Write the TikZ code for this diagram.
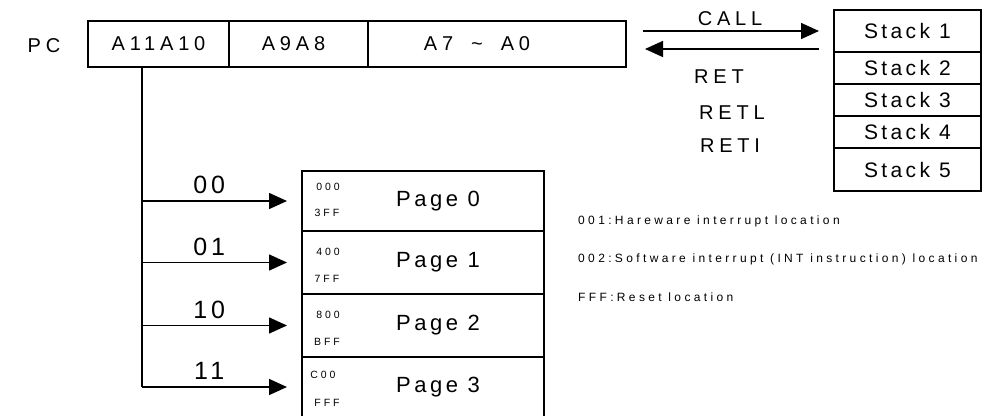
\documentclass[tikz,border=0pt]{standalone}
\usepackage{fontspec}
\setmainfont{Liberation Sans}
\newfontfamily\narrowspaced[LetterSpace=16]{Liberation Sans}
\newfontfamily\midspaced[LetterSpace=24]{Liberation Sans}
\newfontfamily\widespaced[LetterSpace=28]{Liberation Sans}
\usetikzlibrary{arrows.meta,positioning}

\tikzset{
  cell/.style={draw, line width=1.5pt, minimum height=46pt, inner sep=0pt, outer sep=0pt,
    font=\midspaced\fontsize{20}{22}\selectfont},
  stackcell/.style={draw, line width=1.5pt, minimum width=147pt, inner sep=0pt, outer sep=0pt,
    font=\narrowspaced\fontsize{21}{22}\selectfont},
  pagecell/.style={draw, line width=1.5pt, minimum width=242pt, inner sep=0pt, outer sep=0pt,
    font=\narrowspaced\fontsize{22}{24}\selectfont},
  addr/.style={font=\widespaced\fontsize{10.5}{12}\selectfont, inner sep=0pt},
  note/.style={font=\widespaced\fontsize{12}{14}\selectfont, inner sep=0pt, anchor=west},
  op/.style={font=\midspaced\fontsize{20}{22}\selectfont},
  sel/.style={font=\narrowspaced\fontsize{25}{28}\selectfont, pos=0.42, above=3pt},
  wire/.style={line width=1.5pt},
  flow/.style={line width=1.5pt, ->},
}

\begin{document}
\begin{tikzpicture}[x=1pt, y=-1pt, >={Triangle[length=18pt,width=16pt]}]
  \useasboundingbox (0,0) rectangle (985,415);
  \clip (0,0) rectangle (985,415);

  % program counter
  \node[op] (pc) at (44,46) {PC};
  \node[cell, minimum width=141pt, anchor=north west] (ahi) at (88,21) {A11A10};
  \node[cell, minimum width=139pt, right=0pt of ahi] (amid) {A9A8\hspace*{10pt}};
  \node[cell, minimum width=258pt, right=0pt of amid] (alo) {A7\hspace{18pt}\textasciitilde\hspace{18pt}A0\hspace*{40pt}};

  % stack
  \node[stackcell, minimum height=42pt, anchor=north west] (stack1) at (834,10) {Stack 1};
  \node[stackcell, minimum height=32pt, below=0pt of stack1] (stack2) {Stack 2};
  \node[stackcell, minimum height=32pt, below=0pt of stack2] (stack3) {Stack 3};
  \node[stackcell, minimum height=32pt, below=0pt of stack3] (stack4) {Stack 4};
  \node[stackcell, minimum height=43pt, below=0pt of stack4] (stack5) {Stack 5};

  \draw[flow, shorten <=17pt, shorten >=15pt] (alo.east |- stack1.west) -- (stack1.west)
    node[op, midway, above=1pt] (call) {CALL};
  \draw[flow, shorten <=15pt, shorten >=19pt] ([yshift=-18pt]stack1.west) -- ([yshift=-18pt]alo.east |- stack1.west);
  \node[op] (ret) at (719,77) {RET};
  \node[op] (retl) at (732,113) {RETL};
  \node[op] (reti) at (730,146) {RETI};

  % pages
  \node[pagecell, minimum height=60pt, anchor=north west] (page0) at (302,171) {\hspace*{30pt}Page 0};
  \node[pagecell, minimum height=63pt, below=0pt of page0] (page1) {\hspace*{30pt}Page 1};
  \node[pagecell, minimum height=63pt, below=0pt of page1] (page2) {\hspace*{30pt}Page 2};
  \node[pagecell, minimum height=60pt, below=0pt of page2] (page3) {\hspace*{30pt}Page 3};

  \node[addr] (lo0) at ([xshift=-95pt,yshift=14pt]page0.center) {000};
  \node[addr] (hi0) at ([xshift=-96pt,yshift=-12pt]page0.center) {3FF};
  \node[addr] (lo1) at ([xshift=-95pt,yshift=11pt]page1.center) {400};
  \node[addr] (hi1) at ([xshift=-96pt,yshift=-16pt]page1.center) {7FF};
  \node[addr] (lo2) at ([xshift=-95pt,yshift=11pt]page2.center) {800};
  \node[addr] (hi2) at ([xshift=-96pt,yshift=-16pt]page2.center) {BFF};
  \node[addr] (lo3) at ([xshift=-100pt,yshift=12pt]page3.center) {C00};
  \node[addr] (hi3) at ([xshift=-96pt,yshift=-16pt]page3.center) {FFF};

  % page select
  \coordinate (trunk) at (142,67);
  \draw[wire] (trunk) -- (trunk |- page3.west);
  \draw[flow, shorten >=15pt] (trunk |- page0.west) -- (page0.west) node[sel] {00};
  \draw[flow, shorten >=15pt] (trunk |- page1.west) -- (page1.west) node[sel] {01};
  \draw[flow, shorten >=15pt] (trunk |- page2.west) -- (page2.west) node[sel] {10};
  \draw[flow, shorten >=15pt] (trunk |- page3.west) -- (page3.west) node[sel] {11};

  % notes
  \node[note] (note1) at (578,221) {001:Hareware interrupt location};
  \node[note] (note2) at (578,259) {002:Software interrupt (INT instruction) location};
  \node[note] (note3) at (578,297) {FFF:Reset location};
\end{tikzpicture}
\end{document}
